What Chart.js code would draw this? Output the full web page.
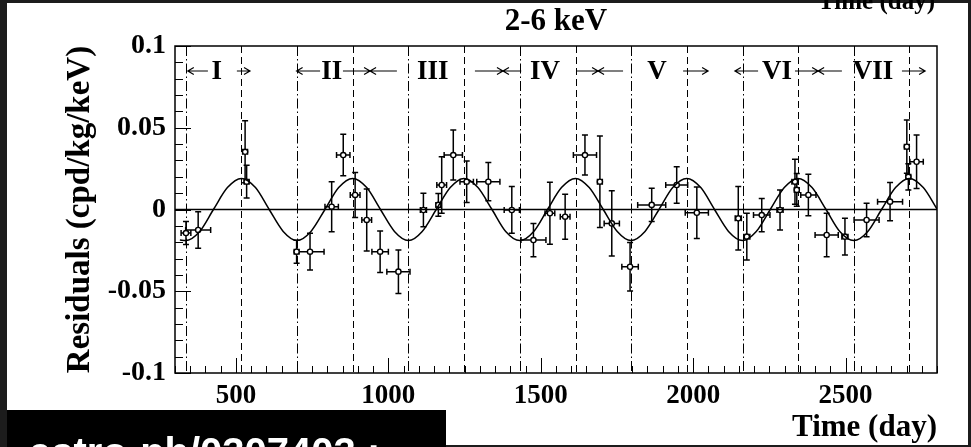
<!DOCTYPE html>
<html>
<head>
<meta charset="utf-8">
<title>Residuals 2-6 keV</title>
<script src="https://cdn.jsdelivr.net/npm/chart.js@4.4.1/dist/chart.umd.min.js"></script>
<style>
  html, body { margin: 0; padding: 0; background: #1c1c1c; overflow: hidden; }
  #plot { display: block; }
</style>
</head>
<body>
<canvas id="plot" width="971" height="447"></canvas>
<script>
const SERIF = "'Liberation Serif', 'Times New Roman', serif";
const SANS = "'Liberation Sans', Arial, sans-serif";

// measured residuals: time (day), rate (cpd/kg/keV) and their errors
const pointDays   = [336, 376, 530, 535, 699, 743, 814, 852, 891, 929, 973, 1033, 1115, 1164, 1175, 1213, 1257, 1328, 1405, 1476, 1530, 1580, 1645, 1694, 1733, 1793, 1864, 1946, 2012, 2148, 2176, 2225, 2285, 2334, 2340, 2378, 2438, 2498, 2569, 2646, 2701, 2706, 2733];
const pointValues = [-0.0144, -0.0125, 0.0353, 0.017, -0.0258, -0.0258, 0.0017, 0.0333, 0.0089, -0.0064, -0.0258, -0.038, -0.0003, 0.0028, 0.015, 0.0333, 0.017, 0.017, -0.0003, -0.0187, -0.0023, -0.0044, 0.0333, 0.017, -0.0085, -0.035, 0.0028, 0.015, -0.002, -0.0054, -0.0166, -0.0034, -0.0003, 0.017, 0.012, 0.0089, -0.0156, -0.0166, -0.0064, 0.0048, 0.0384, 0.02, 0.0292];
const dayErrors   = [16, 41, 8, 8, 8, 46, 22, 22, 16, 16, 27, 38, 10, 8, 16, 30, 22, 38, 25, 41, 16, 16, 38, 8, 25, 27, 46, 36, 38, 10, 10, 27, 10, 10, 8, 25, 38, 10, 41, 41, 8, 8, 22];
const valueErrors = [0.007, 0.0112, 0.019, 0.010, 0.007, 0.0112, 0.0153, 0.0127, 0.0138, 0.019, 0.0127, 0.0133, 0.0102, 0.007, 0.0173, 0.0153, 0.0127, 0.0117, 0.0143, 0.0102, 0.019, 0.0138, 0.0122, 0.028, 0.0199, 0.0148, 0.0102, 0.0112, 0.0158, 0.0194, 0.0143, 0.0102, 0.0122, 0.0138, 0.010, 0.0127, 0.0133, 0.0112, 0.0102, 0.0117, 0.0163, 0.008, 0.0163];

// modulation curve, read at its extremes, crossings and half-way points
const curveDays = [316, 335, 381, 426, 472, 518, 564, 609, 655, 700, 746, 792, 837, 883, 929, 974, 1020, 1066, 1111, 1157, 1203, 1248, 1294, 1340, 1385, 1431, 1477, 1522, 1568, 1614, 1659, 1705, 1751, 1796, 1842, 1888, 1933, 1979, 2025, 2070, 2116, 2162, 2207, 2253, 2299, 2344, 2390, 2436, 2481, 2527, 2573, 2618, 2664, 2709, 2755, 2800];
const curveValues = [-0.0186, -0.019, -0.0134, 0, 0.0134, 0.019, 0.0134, 0, -0.0134, -0.019, -0.0134, 0, 0.0134, 0.019, 0.0134, 0, -0.0134, -0.019, -0.0134, 0, 0.0134, 0.019, 0.0134, 0, -0.0134, -0.019, -0.0134, 0, 0.0134, 0.019, 0.0134, 0, -0.0134, -0.019, -0.0134, 0, 0.0134, 0.019, 0.0134, 0, -0.0134, -0.019, -0.0134, 0, 0.0134, 0.019, 0.0134, 0, -0.0134, -0.019, -0.0134, 0, 0.0134, 0.019, 0.0134, 0.0003];

// vertical markers: dashed at maxima, dash-dotted at minima
const peakDays   = [518, 883, 1248, 1614, 1979, 2344, 2709];
const troughDays = [335, 700, 1066, 1431, 1796, 2162, 2527];

// annual cycles along the top, each with arrows [from, tip] in days
const periodNames   = ['I', 'II', 'III', 'IV', 'V', 'VI', 'VII'];
const periodCentres = [437, 814, 1146, 1514, 1881, 2275, 2590];
const periodLeftArrows  = [[408, 342], [776, 699], [1028, 940], [1436, 1376], [1770, 1688], [2213, 2137], [2488, 2410]];
const periodRightArrows = [[503, 546], [851, 940], [1284, 1376], [1619, 1688], [1967, 2049], [2334, 2410], [2685, 2761]];

const xTicks = [500, 1000, 1500, 2000, 2500];
const yTicks = [-0.1, -0.05, 0, 0.05, 0.1];
const yTickLabels = ['-0.1', '-0.05', '0', '0.05', '0.1'];

const paperPlugin = {
    id: 'paper',
    beforeDraw(chart) {
        const ctx = chart.ctx;
        ctx.save();
        ctx.fillStyle = '#1c1c1c';
        ctx.fillRect(0, 0, chart.width, chart.height);
        ctx.fillStyle = '#ffffff';
        ctx.fillRect(7, 3, 961, 442);
        ctx.restore();
    },
    beforeDatasetsDraw(chart) {
        const { ctx, chartArea: a, scales: { x, y } } = chart;
        ctx.save();
        ctx.beginPath();
        ctx.rect(a.left, a.top, a.right - a.left, a.bottom - a.top);
        ctx.clip();
        ctx.strokeStyle = '#000';
        ctx.lineWidth = 1;
        const vline = (d, dash) => {
            const px = Math.round(x.getPixelForValue(d)) + 0.5;
            ctx.setLineDash(dash);
            ctx.beginPath();
            ctx.moveTo(px, a.top);
            ctx.lineTo(px, a.bottom);
            ctx.stroke();
        };
        peakDays.forEach(d => vline(d, [7, 4]));
        troughDays.forEach(d => vline(d, [10, 3, 1.5, 3]));
        ctx.setLineDash([]);

        // error bars with caps
        ctx.lineWidth = 1.5;
        pointDays.forEach((d, i) => {
            const px = x.getPixelForValue(d);
            const py = y.getPixelForValue(pointValues[i]);
            const x0 = x.getPixelForValue(d - dayErrors[i]);
            const x1 = x.getPixelForValue(d + dayErrors[i]);
            const y0 = y.getPixelForValue(pointValues[i] - valueErrors[i]);
            const y1 = y.getPixelForValue(pointValues[i] + valueErrors[i]);
            ctx.beginPath();
            ctx.moveTo(x0, py); ctx.lineTo(x1, py);
            ctx.moveTo(x0, py - 3); ctx.lineTo(x0, py + 3);
            ctx.moveTo(x1, py - 3); ctx.lineTo(x1, py + 3);
            ctx.moveTo(px, y0); ctx.lineTo(px, y1);
            ctx.moveTo(px - 3, y0); ctx.lineTo(px + 3, y0);
            ctx.moveTo(px - 3, y1); ctx.lineTo(px + 3, y1);
            ctx.stroke();
        });
        ctx.restore();
    },
    afterDatasetsDraw(chart) {
        const { ctx, chartArea: a, scales: { x, y } } = chart;
        ctx.save();
        ctx.strokeStyle = '#000';
        ctx.lineWidth = 1.5;
        ctx.strokeRect(a.left, a.top, a.right - a.left, a.bottom - a.top);

        // inward ticks: x every 50 days, y every 0.01
        ctx.lineWidth = 1;
        ctx.beginPath();
        for (let d = 300; d <= 2800; d += 50) {
            const px = Math.round(x.getPixelForValue(d)) + 0.5;
            const len = d % 500 === 0 ? 15 : 7;
            ctx.moveTo(px, a.bottom);
            ctx.lineTo(px, a.bottom - len);
        }
        for (let k = -10; k <= 10; k++) {
            const py = Math.round(y.getPixelForValue(k / 100)) + 0.5;
            const len = k % 5 === 0 ? 16 : 8;
            ctx.moveTo(a.left, py);
            ctx.lineTo(a.left + len, py);
        }
        ctx.stroke();

        // period labels and arrows
        const ay = 71;
        ctx.lineWidth = 1.2;
        const arrow = ([from, tip]) => {
            const p0 = x.getPixelForValue(from), p1 = x.getPixelForValue(tip);
            const s = p1 > p0 ? 1 : -1;
            ctx.beginPath();
            ctx.moveTo(p0, ay); ctx.lineTo(p1, ay);
            ctx.moveTo(p1 - s * 6, ay - 3.5); ctx.lineTo(p1, ay); ctx.lineTo(p1 - s * 6, ay + 3.5);
            ctx.stroke();
        };
        periodLeftArrows.forEach(arrow);
        periodRightArrows.forEach(arrow);
        ctx.fillStyle = '#000';
        ctx.font = 'bold 27px ' + SERIF;
        ctx.textAlign = 'center';
        ctx.textBaseline = 'alphabetic';
        periodNames.forEach((n, i) => ctx.fillText(n, x.getPixelForValue(periodCentres[i]), 79));
        ctx.restore();
    },
    afterDraw(chart) {
        const ctx = chart.ctx;
        ctx.save();
        ctx.fillStyle = '#000';
        ctx.font = 'bold 31px ' + SERIF;
        ctx.textAlign = 'center';
        ctx.fillText('2-6 keV', 556, 30);
        ctx.textAlign = 'right';
        ctx.font = 'bold 25px ' + SERIF;
        ctx.fillText('Time (day)', 935, 9);

        ctx.fillStyle = '#000';
        ctx.fillRect(7, 410, 439, 37);
        ctx.fillStyle = '#fff';
        ctx.font = 'bold 40px ' + SANS;
        ctx.textAlign = 'left';
        ctx.fillText('astro-ph/0307403 :', 29, 466);
        ctx.restore();
    }
};

new Chart(document.getElementById('plot'), {
    type: 'scatter',
    data: {
        datasets: [
            {
                data: [{ x: 300, y: 0 }, { x: 2800, y: 0 }],
                showLine: true, borderColor: '#000', borderWidth: 1.5, pointRadius: 0
            },
            {
                data: curveDays.map((d, i) => ({ x: d, y: curveValues[i] })),
                showLine: true, borderColor: '#000', borderWidth: 1.5, pointRadius: 0,
                cubicInterpolationMode: 'monotone'
            },
            {
                data: pointDays.map((d, i) => ({ x: d, y: pointValues[i] })),
                pointRadius: 2.6, pointBorderWidth: 1.4,
                pointBackgroundColor: '#fff', pointBorderColor: '#000'
            }
        ]
    },
    options: {
        responsive: false,
        animation: false,
        devicePixelRatio: 1,
        layout: { padding: { left: 7, top: 46, right: 34, bottom: 0 } },
        plugins: { legend: { display: false }, tooltip: { enabled: false } },
        scales: {
            x: {
                type: 'linear', min: 300, max: 2800,
                grid: { display: false, drawTicks: false },
                border: { display: false },
                afterBuildTicks: s => { s.ticks = xTicks.map(v => ({ value: v })); },
                afterFit: s => { s.height = 74; },
                ticks: {
                    color: '#000', padding: 7, maxRotation: 0, autoSkip: false,
                    font: { family: SERIF, size: 27, weight: 'bold' },
                    callback: v => String(v)
                },
                title: {
                    display: true, text: 'Time (day)', align: 'end', color: '#000',
                    font: { family: SERIF, size: 31, weight: 'bold' },
                    padding: { top: 0, bottom: 0 }
                }
            },
            y: {
                type: 'linear', min: -0.1, max: 0.1,
                grid: { display: false, drawTicks: false },
                border: { display: false },
                afterBuildTicks: s => { s.ticks = yTicks.map(v => ({ value: v })); },
                afterFit: s => { s.width = 168; },
                ticks: {
                    color: '#000', padding: 9,
                    font: { family: SERIF, size: 28, weight: 'bold' },
                    callback: (v, i) => yTickLabels[i]
                },
                title: {
                    display: true, text: 'Residuals (cpd/kg/keV)', color: '#000',
                    font: { family: SERIF, size: 33, weight: 'bold' },
                    padding: { top: 54, bottom: 0 }
                }
            }
        }
    },
    plugins: [paperPlugin]
});
</script>
</body>
</html>
